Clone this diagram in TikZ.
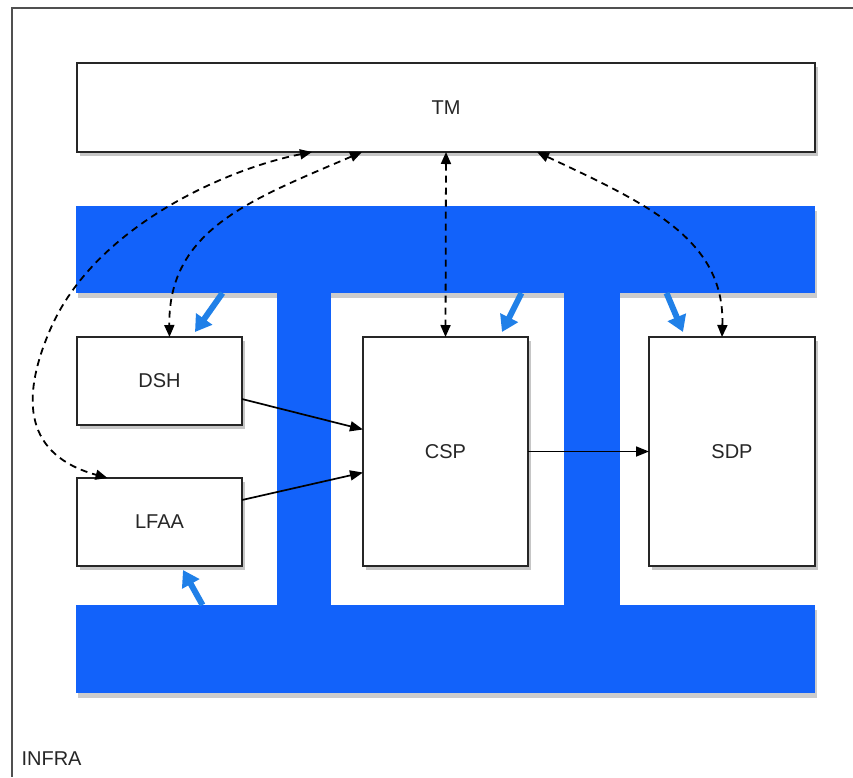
\documentclass[tikz,border=0pt]{standalone}
\usepackage{fontspec}
\setmainfont{Liberation Sans}
\usetikzlibrary{arrows.meta, positioning, shadows}
\definecolor{infrablue}{RGB}{18,98,250}
\definecolor{linkblue}{RGB}{32,128,232}
\definecolor{framegray}{RGB}{80,80,80}

\begin{document}
\begin{tikzpicture}[
    x=1pt, y=-1pt,
    box/.style={rectangle, draw=black!85, line width=2pt, fill=white, inner sep=0pt, outer sep=0pt, text=black!85, font=\fontsize{20}{24}\selectfont, drop shadow={shadow xshift=3pt, shadow yshift=-4pt, opacity=0.45}},
    bar/.style={rectangle, fill=infrablue, inner sep=0pt, outer sep=0pt},
    flow/.style={-{Triangle[length=13pt,width=10pt]}, line width=1.7pt},
    ctrl/.style={{Triangle[length=12pt,width=10pt]}-{Triangle[length=12pt,width=10pt]}, line width=1.8pt, dash pattern=on 7pt off 5pt},
    infra/.style={-{Triangle[length=16pt,width=19pt]}, line width=6pt, linkblue}
]
\useasboundingbox (0,0) rectangle (853,777);
\draw[framegray, line width=2.4pt] (853,8) -- (12,8) -- (12,777);

% infrastructure
\node[bar, minimum width=739pt, minimum height=87pt, drop shadow={shadow xshift=2pt, shadow yshift=-5pt, opacity=0.4}] (infratop) at (445.5,249.5) {};
\node[bar, minimum width=739pt, minimum height=88pt, drop shadow={shadow xshift=2pt, shadow yshift=-5pt, opacity=0.4}] (infrabot) at (445.5,649) {};
\node[bar, minimum width=54pt, minimum height=314pt] (infraleft) at (304,449) {};
\node[bar, minimum width=56pt, minimum height=314pt] (infraright) at (592,449) {};

\node[box, minimum width=738pt, minimum height=89pt] (tm) at (446,107.5) {TM};
\node[box, minimum width=165pt, minimum height=88pt] (dsh) at (159.5,381) {DSH};
\node[box, minimum width=165pt, minimum height=88pt, below=53pt of dsh] (lfaa) {LFAA};
\node[box, minimum width=165pt, minimum height=229pt] (csp) at (445.5,451.5) {CSP};
\node[box, minimum width=166pt, minimum height=229pt, right=121pt of csp] (sdp) {SDP};

\node[anchor=base west, text=black!85, font=\fontsize{20}{24}\selectfont] (infra) at (18,765) {INFRA};

\draw[flow] ([yshift=-18pt]dsh.east) -- ([yshift=22pt]csp.west);
\draw[flow] ([yshift=22pt]lfaa.east) -- ([yshift=-21pt]csp.west);
\draw[flow] (csp.east) -- (sdp.west);

% monitoring and control
\draw[ctrl] ([xshift=-134pt]tm.south) .. controls (230,168) and (95,225) .. (50,330) .. controls (20,400) and (25,455) .. ([xshift=-52pt]lfaa.north);
\draw[ctrl] ([xshift=-84pt]tm.south) .. controls (250,200) and (168,230) .. ([xshift=10pt]dsh.north);
\draw[ctrl] (tm.south) -- (csp.north);
\draw[ctrl] ([xshift=91pt]tm.south) .. controls (650,205) and (725,240) .. ([xshift=-10pt]sdp.north);

\draw[infra] ([xshift=-223pt]infratop.south) -- ([xshift=-47pt,yshift=5pt]dsh.north east);
\draw[infra] ([xshift=76pt]infratop.south) -- ([xshift=-26pt,yshift=5pt]csp.north east);
\draw[infra] ([xshift=221pt]infratop.south) -- ([xshift=34pt,yshift=5pt]sdp.north west);
\draw[infra] ([xshift=-243pt]infrabot.north) -- ([xshift=-59pt,yshift=-4pt]lfaa.south east);

\end{tikzpicture}
\end{document}
